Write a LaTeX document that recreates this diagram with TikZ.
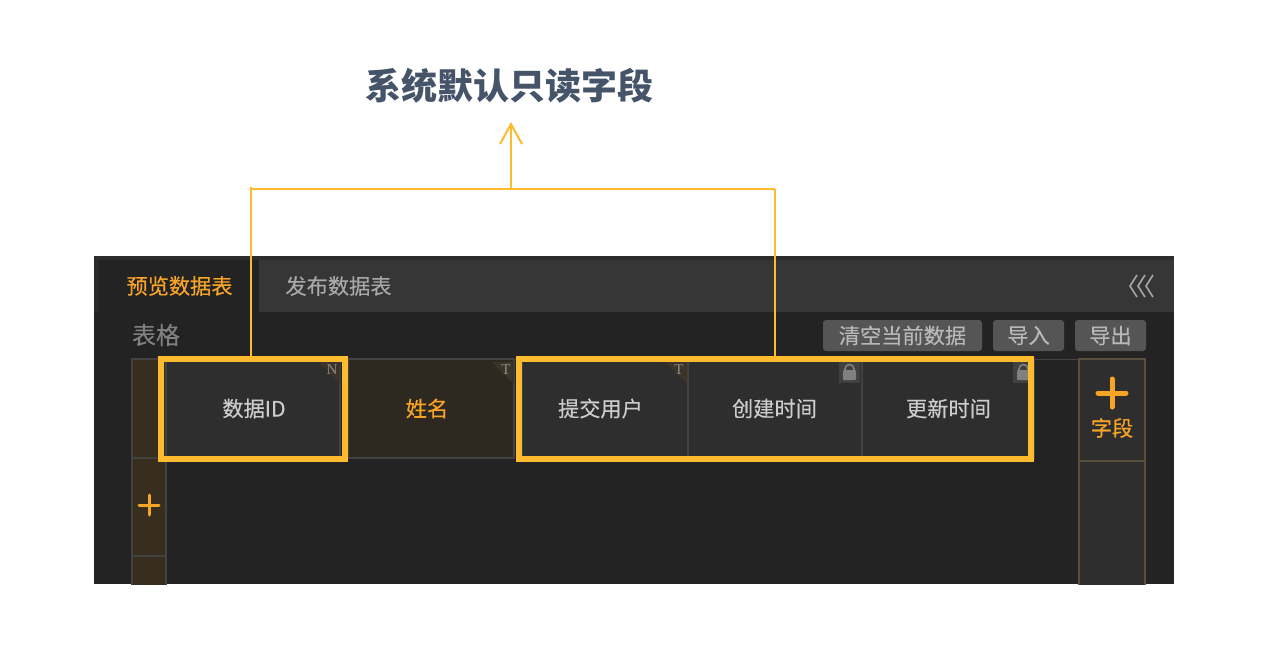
\documentclass[tikz,border=0pt]{standalone}
\usepackage{fontspec}
\setmainfont[FakeBold=0.25]{Noto Sans CJK SC}
\newfontfamily\titlefont{Noto Sans CJK SC}
\newfontfamily\serifmark{Liberation Serif}
\usetikzlibrary{arrows.meta}

\definecolor{panelbg}{HTML}{232323}
\definecolor{paneledge}{HTML}{2C2C2C}
\definecolor{tabbg}{HTML}{363636}
\definecolor{tabtext}{HTML}{A8A8A8}
\definecolor{accent}{HTML}{F8A427}
\definecolor{guide}{HTML}{FDBB2D}
\definecolor{titletext}{HTML}{46546A}
\definecolor{cellbg}{HTML}{2E2E2E}
\definecolor{celledge}{HTML}{424242}
\definecolor{cellsel}{HTML}{2D2820}
\definecolor{sidecell}{HTML}{372E20}
\definecolor{sideedge}{HTML}{5A4F3C}
\definecolor{btnbg}{HTML}{555555}
\definecolor{corner}{HTML}{3C3329}

\tikzset{
    tab label/.style={font=\fontsize{10.6pt}{12pt}\selectfont, inner sep=0pt},
    head cell/.style={
        draw=celledge, line width=1pt, fill=cellbg, text=black!20,
        minimum height=49.5pt, inner sep=0pt, outer sep=0pt,
        font=\fontsize{10.6pt}{12pt}\selectfont},
    action btn/.style={
        fill=btnbg, rounded corners=1.5pt, text=black!28,
        minimum height=15.5pt, inner sep=0pt, outer sep=0pt,
        font=\fontsize{10.6pt}{12pt}\selectfont},
    mark label/.style={
        text=black!45, inner sep=0pt, font=\serifmark\fontsize{7.5pt}{8pt}\selectfont},
    read box/.style={
        draw=guide, line width=3pt, minimum height=50pt, inner sep=0pt, outer sep=0pt},
    guide line/.style={draw=guide, line width=1pt},
    side cell/.style={draw=celledge, line width=0.75pt, fill=sidecell},
    add cell/.style={draw=sideedge, line width=0.6pt, fill=#1}
}

\begin{document}
\begin{tikzpicture}[x=0.5pt, y=-0.5pt]

    \useasboundingbox (0,0) rectangle (1282,654);
    \fill[white] (0,0) rectangle (1282,654);


    % title
    \node[font=\titlefont\fontsize{18pt}{20pt}\selectfont\bfseries, text=titletext, inner sep=0pt]
        (title) at (509,85.5) {系统默认只读字段};


    % panel
    \fill[panelbg] (94,256) rectangle (1174,584);
    \fill[paneledge] (94,256) rectangle (1174,260);
    \fill[paneledge] (94,256) rectangle (98,312);
    \fill[black!85] (98,260) rectangle (99,584);
    \fill[tabbg] (259,260) rectangle (1174,312);


    % tabs
    \node[tab label, text=accent] (tabpreview) at (179.5,286) {预览数据表};
    \node[tab label, text=tabtext] (tabpublish) at (338.5,286) {发布数据表};
    \foreach \offs in {0,8,16}
        \draw[tabtext, line width=0.8pt]
            (1137+\offs,275) --
            (1130+\offs,286) --
            (1137+\offs,297);


    % toolbar
    \node[text=black!50, inner sep=0pt, font=\fontsize{12pt}{14pt}\selectfont]
        (tablelabel) at (156,335) {表格};
    \node[action btn, minimum width=79.5pt] (btnclear) at (902.5,335.5) {清空当前数据};
    \node[action btn, minimum width=35.5pt] (btnimport) at (1028.5,335.5) {导入};
    \node[action btn, minimum width=35.5pt] (btnexport) at (1110.5,335.5) {导出};


    % side columns
    \begin{scope}
        \clip (94,256) rectangle (1174,584);
        \draw[side cell] (132,359) rectangle (166,458);
        \draw[side cell] (132,458) rectangle (166,556);
        \draw[side cell] (132,556) rectangle (166,600);
        \draw[add cell=cellbg] (1079,359) rectangle (1145,461);
        \draw[add cell=cellbg] (1079,461) rectangle (1145,600);
    \end{scope}

    \draw[accent, line width=1.5pt, line cap=round]
        (139,505) -- (159,505)
        (149,495) -- (149,515);
    \draw[accent, line width=2.5pt, line cap=round]
        (1098,393) -- (1126,393)
        (1112,379) -- (1112,407);
    \node[text=accent, inner sep=0pt, font=\fontsize{10.6pt}{12pt}\selectfont]
        (addfield) at (1112,428) {字段};


    % header cells
    \draw[celledge, line width=0.75pt] (166,359.5) -- (1079,359.5);
    \node[head cell, minimum width=87pt] (celldataid) at (253,408.5) {};
    \node[text=black!20, inner sep=0pt, font=\fontsize{10.6pt}{12pt}\selectfont]
        (idlabel) at (254,408.5) {数据ID};
    \node[head cell, minimum width=83pt, fill=cellsel] (cellname) at (431,408.5) {};
    \node[text=accent, inner sep=0pt, font=\fontsize{10.6pt}{12pt}\selectfont]
        (namelabel) at (427,408.5) {姓名};
    \node[head cell, minimum width=83pt] (celluser) at (604.5,408.5) {};
    \node[text=black!20, inner sep=0pt, font=\fontsize{10.6pt}{12pt}\selectfont]
        (userlabel) at (600.5,408.5) {提交用户};
    \node[head cell, minimum width=87pt] (cellcreate) at (774.5,408.5) {创建时间};
    \node[head cell, minimum width=86pt] (cellupdate) at (947.5,408.5) {};
    \node[text=black!20, inner sep=0pt, font=\fontsize{10.6pt}{12pt}\selectfont]
        (updatelabel) at (948.5,408.5) {更新时间};


    % corner marks
    \foreach \xr/\letter in {340/N,514/T,687/T}
    {
        \fill[corner] (\xr-22,362) -- (\xr,362) -- (\xr,384) -- cycle;
        \node[mark label] at (\xr-8,370) {\letter};
    }


    % locks
    \foreach \xl in {839,1013}
    {
        \fill[black!75] (\xl,362) rectangle (\xl+21,383);
        \fill[black!50, rounded corners=0.5pt] (\xl+4,370) rectangle (\xl+17,380);
        \draw[black!50, line width=0.8pt]
            (\xl+6,371) -- (\xl+6,369) arc[start angle=180, end angle=360, radius=4.5] -- (\xl+15,371);
    }


    % read only boxes
    \node[read box, minimum width=92pt] (boxid) at (253,409) {};
    \node[read box, minimum width=256pt] (boxsys) at (775,409) {};


    % brace to title
    \coordinate (bracketl) at (251,187);
    \coordinate (bracketr) at (775,189);
    \coordinate (stem) at (511,189);
    \coordinate (arrowtip) at (511,122);

    \draw[guide line] (bracketl) -- (bracketl |- boxid.north);
    \draw[guide line] (bracketr) -- (boxsys.north);
    \draw[guide line] (252,189) -- (bracketr);
    \draw[guide line, -{Straight Barb[length=10pt, width=11pt, line width=1pt]}]
        (stem) -- (arrowtip);

\end{tikzpicture}
\end{document}
